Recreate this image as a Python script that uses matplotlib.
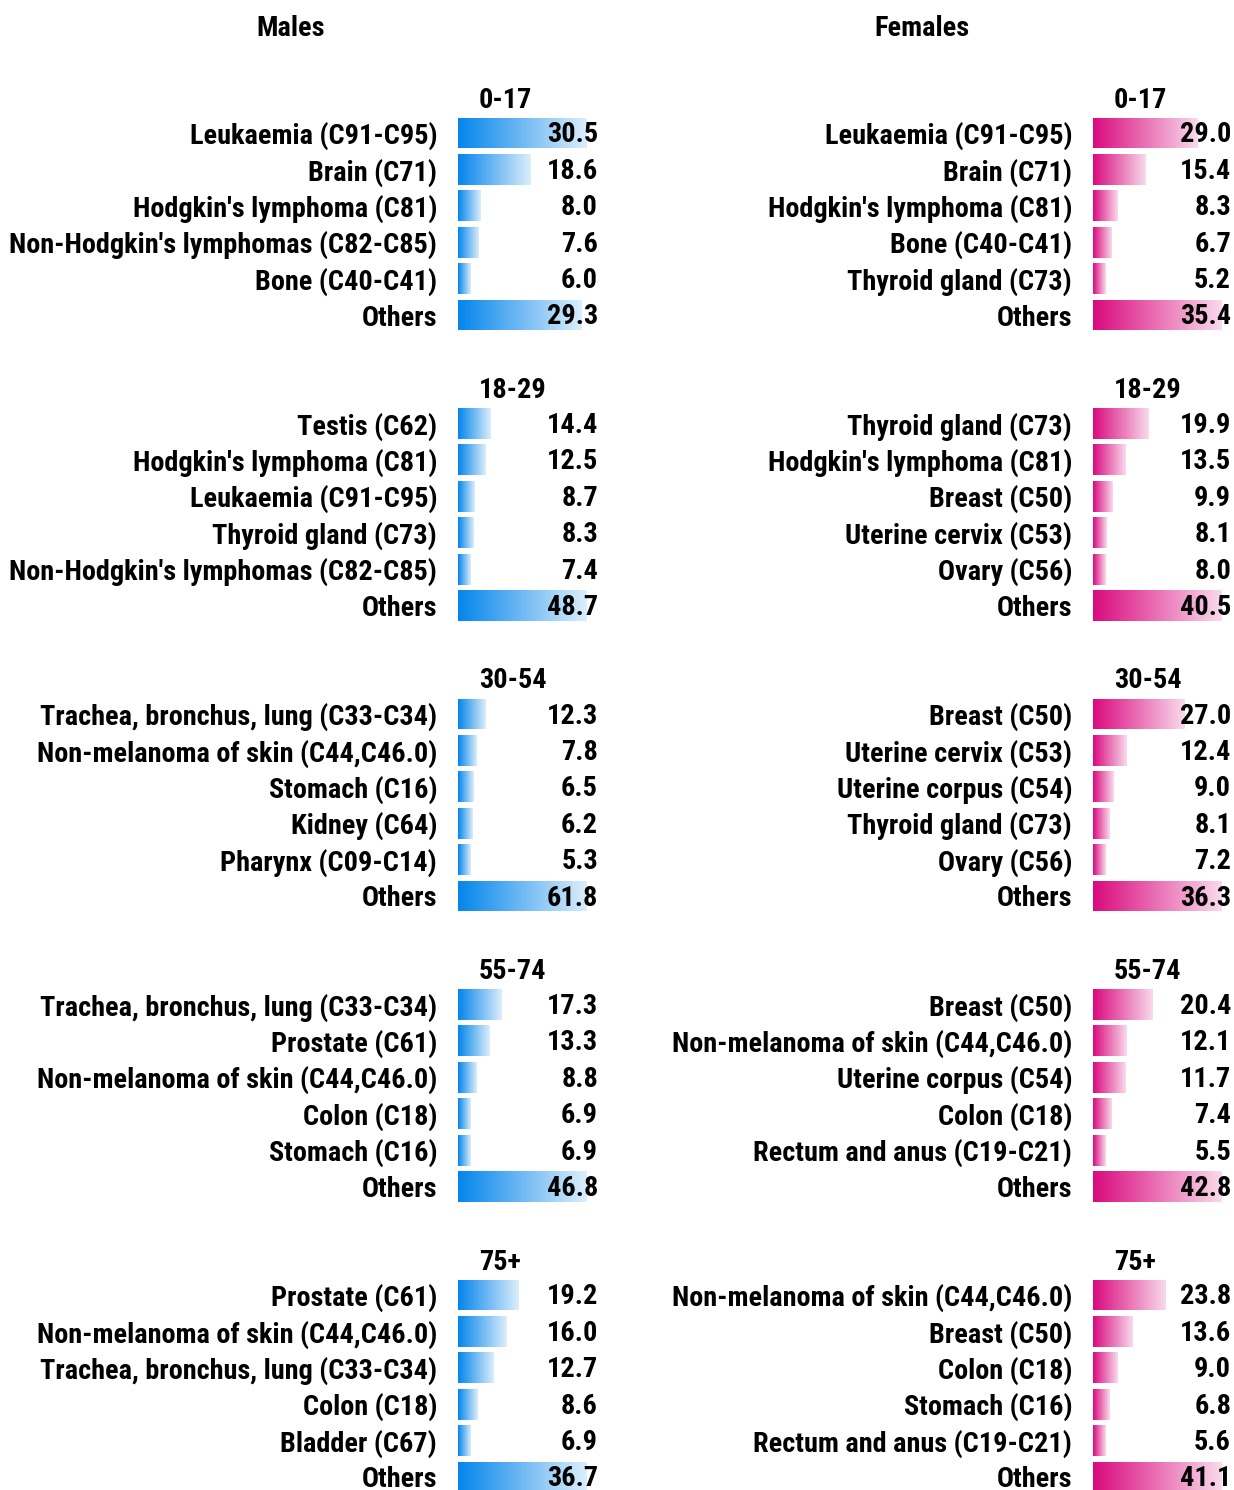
import matplotlib
matplotlib.use("Agg")
import matplotlib.pyplot as plt
import numpy as np
from matplotlib.colors import LinearSegmentedColormap

# DATA
age_groups = ["0-17", "18-29", "30-54", "55-74", "75+"]

male_sites = [
    ["Leukaemia (C91-C95)", "Brain (C71)", "Hodgkin's lymphoma (C81)",
     "Non-Hodgkin's lymphomas (C82-C85)", "Bone (C40-C41)", "Others"],
    ["Testis (C62)", "Hodgkin's lymphoma (C81)", "Leukaemia (C91-C95)",
     "Thyroid gland (C73)", "Non-Hodgkin's lymphomas (C82-C85)", "Others"],
    ["Trachea, bronchus, lung (C33-C34)", "Non-melanoma of skin (C44,C46.0)",
     "Stomach (C16)", "Kidney (C64)", "Pharynx (C09-C14)", "Others"],
    ["Trachea, bronchus, lung (C33-C34)", "Prostate (C61)",
     "Non-melanoma of skin (C44,C46.0)", "Colon (C18)", "Stomach (C16)", "Others"],
    ["Prostate (C61)", "Non-melanoma of skin (C44,C46.0)",
     "Trachea, bronchus, lung (C33-C34)", "Colon (C18)", "Bladder (C67)", "Others"],
]
male_values = [
    [30.5, 18.6, 8.0, 7.6, 6.0, 29.3],
    [14.4, 12.5, 8.7, 8.3, 7.4, 48.7],
    [12.3, 7.8, 6.5, 6.2, 5.3, 61.8],
    [17.3, 13.3, 8.8, 6.9, 6.9, 46.8],
    [19.2, 16.0, 12.7, 8.6, 6.9, 36.7],
]

female_sites = [
    ["Leukaemia (C91-C95)", "Brain (C71)", "Hodgkin's lymphoma (C81)",
     "Bone (C40-C41)", "Thyroid gland (C73)", "Others"],
    ["Thyroid gland (C73)", "Hodgkin's lymphoma (C81)", "Breast (C50)",
     "Uterine cervix (C53)", "Ovary (C56)", "Others"],
    ["Breast (C50)", "Uterine cervix (C53)", "Uterine corpus (C54)",
     "Thyroid gland (C73)", "Ovary (C56)", "Others"],
    ["Breast (C50)", "Non-melanoma of skin (C44,C46.0)", "Uterine corpus (C54)",
     "Colon (C18)", "Rectum and anus (C19-C21)", "Others"],
    ["Non-melanoma of skin (C44,C46.0)", "Breast (C50)", "Colon (C18)",
     "Stomach (C16)", "Rectum and anus (C19-C21)", "Others"],
]
female_values = [
    [29.0, 15.4, 8.3, 6.7, 5.2, 35.4],
    [19.9, 13.5, 9.9, 8.1, 8.0, 40.5],
    [27.0, 12.4, 9.0, 8.1, 7.2, 36.3],
    [20.4, 12.1, 11.7, 7.4, 5.5, 42.8],
    [23.8, 13.6, 9.0, 6.8, 5.6, 41.1],
]

plt.rcParams["font.family"] = ["Roboto Condensed", "Liberation Sans", "DejaVu Sans"]
plt.rcParams["font.weight"] = "bold"
FS = 20.3

W, H = 1234, 1490
fig = plt.figure(figsize=(W / 100, H / 100), dpi=100)
fig.patch.set_facecolor("white")

blue_cmap = LinearSegmentedColormap.from_list("b", ["#0485EC", "#DCEEFB"])
pink_cmap = LinearSegmentedColormap.from_list("p", ["#DA0A7E", "#F9DAEC"])

grad = np.linspace(0, 1, 256).reshape(1, -1)

ROW = 36.4
GROUP = 290.5
FIRST = 133
PANEL_W = 129   # px
MIN_BAR = 13    # px, width of the shortest bar in each panel


def panel(left_px, sites, values, cmap, header_px, value_px):
    for g, (labels, vals) in enumerate(zip(sites, values)):
        top = FIRST + g * GROUP - ROW / 2
        bottom = top + 6 * ROW
        ax = fig.add_axes([
            left_px / W,
            1 - bottom / H,
            PANEL_W / W,
            6 * ROW / H,
        ])
        vmax, vmin = max(vals), min(vals)
        # axis start so the shortest bar keeps a fixed visible width
        x0 = (vmin * PANEL_W - MIN_BAR * vmax) / (PANEL_W - MIN_BAR)

        y = np.arange(len(vals))
        bars = ax.barh(y, np.array(vals) - x0, left=x0, height=0.85, color="none")
        for bar, v in zip(bars, vals):
            yc = bar.get_y() + bar.get_height() / 2
            im = ax.imshow(
                grad, cmap=cmap, aspect="auto",
                extent=[x0, v, yc + 0.425, yc - 0.425],
            )
            im.set_clip_path(bar)
        ax.set_xlim(x0, vmax)
        ax.set_ylim(5.5, -0.5)
        ax.set_yticks(y)
        ax.set_yticklabels(labels, fontsize=FS, fontweight="bold")
        ax.tick_params(axis="y", length=0, pad=15)
        ax.set_xticks([])
        for s in ax.spines.values():
            s.set_visible(False)
        ax.patch.set_alpha(0)

        # VALUE LABELS
        for i, v in enumerate(vals):
            fig.text(value_px / W, 1 - (FIRST + 2 + g * GROUP + i * ROW) / H,
                     f"{v:.1f}", ha="right", va="center",
                     fontsize=FS, fontweight="bold")

        # AGE GROUP HEADER
        fig.text(header_px / W, 1 - (FIRST + 2 + g * GROUP - 35) / H,
                 age_groups[g], ha="left", va="center",
                 fontsize=FS, fontweight="bold")


panel(458, male_sites, male_values, blue_cmap, 479, 598)
panel(1093, female_sites, female_values, pink_cmap, 1114, 1231)

# TITLES
fig.text(291 / W, 1 - 29 / H, "Males", ha="center", va="center",
         fontsize=FS, fontweight="bold")
fig.text(922 / W, 1 - 29 / H, "Females", ha="center", va="center",
         fontsize=FS, fontweight="bold")

plt.savefig("out.png", dpi=100, facecolor="white")
plt.close()
